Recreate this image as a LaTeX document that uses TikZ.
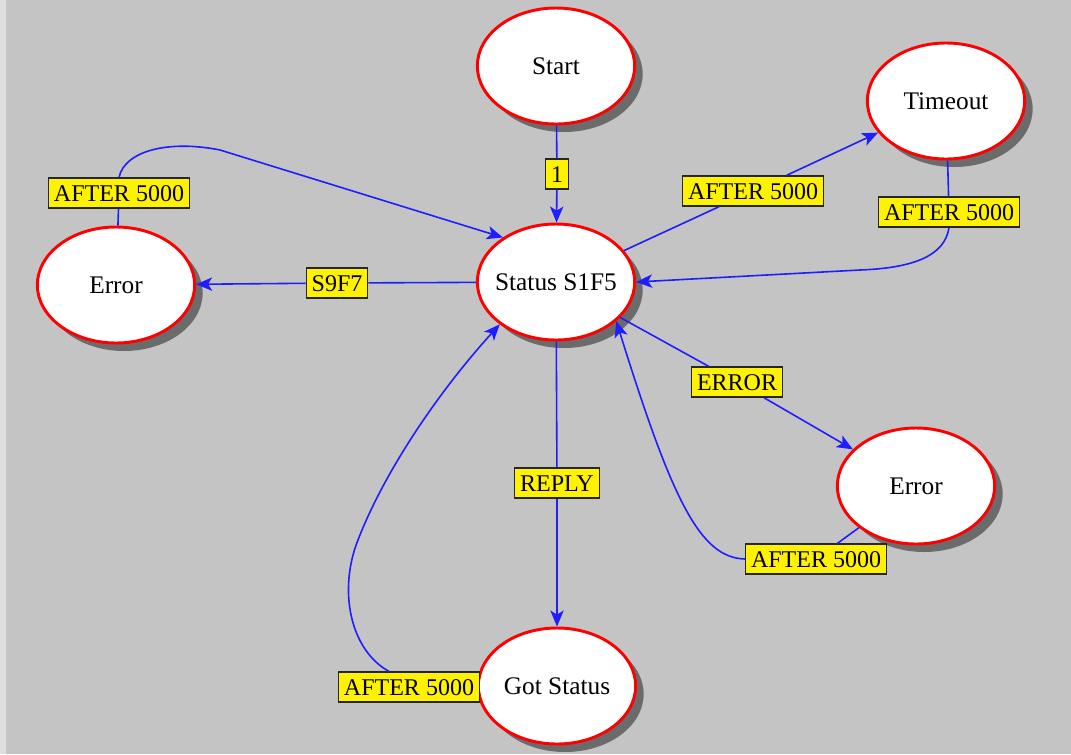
\documentclass[tikz,border=0pt]{standalone}
\usepackage{fontspec}
\setmainfont{Liberation Serif}
\usetikzlibrary{arrows.meta}
\usetikzlibrary{shapes.geometric}
\usetikzlibrary{shadows}

\definecolor{bggray}{HTML}{C4C4C4}
\definecolor{stripgray}{HTML}{DEDEDE}
\definecolor{edgeblue}{HTML}{1E1EFF}
\tikzset{
  state/.style={ellipse, draw=red, line width=2.2pt, fill=white,
    minimum width=118pt, minimum height=87pt, inner xsep=-20pt, inner ysep=0pt,
    font=\fontsize{19}{22}\selectfont,
    drop shadow={shadow xshift=6pt, shadow yshift=-6pt, fill=black!58, opacity=1}},
  tag/.style={rectangle, draw=black!85, line width=0.9pt, fill=yellow,
    inner xsep=4pt, inner ysep=4.5pt, text height=13pt, text depth=0.5pt,
    font=\fontsize{18}{20}\selectfont},
  link/.style={draw=edgeblue, line width=1.2pt},
  edge/.style={link, -{Stealth[length=12pt,width=10pt,inset=3pt]}}
}

\begin{document}
\begin{tikzpicture}[x=0.75pt, y=-0.75pt]
      \useasboundingbox (0,0) rectangle (1071,754);
      \fill[bggray] (0,0) rectangle (1071,754);
      \fill[stripgray] (0,0) rectangle (6,754);

      \node[state] (start) at (556,66) {Start};
      \node[state] (timeout) at (946,101) {Timeout};
      \node[state] (status) at (556,282) {Status S1F5};
      \node[state] (errL) at (116,285) {Error};
      \node[state] (errR) at (916,486) {Error};
      \node[state] (got) at (557,686) {Got Status};

      \node[tag] (tOne) at (557,174) {1};
      \node[tag] (tToTimeout) at (753,191) {AFTER 5000};
      \node[tag] (tFromTimeout) at (949,212) {AFTER 5000};
      \node[tag] (tS9F7) at (337,283) {S9F7};
      \node[tag] (tFromErrL) at (119,193) {AFTER 5000};
      \node[tag] (tError) at (737,382) {ERROR};
      \node[tag] (tFromErrR) at (816,559) {AFTER 5000};
      \node[tag] (tReply) at (557,483) {REPLY};
      \node[tag] (tFromGot) at (409,687) {AFTER 5000};

      \draw[link] (start) -- (tOne);
      \draw[edge] (tOne) -- (status);
      \draw[link] (status) -- (tToTimeout);
      \draw[edge] (tToTimeout) -- (timeout);
      \draw[link] (timeout) -- (tFromTimeout);
      \draw[edge] (tFromTimeout.south) .. controls (945,255) and (915,268) .. (860,270) -- (status.east);
      \draw[link] (status) -- (tS9F7);
      \draw[edge] (tS9F7) -- (errL);
      \draw[link] (errL) -- (tFromErrL);
      \draw[edge] (tFromErrL.north) .. controls (125,150) and (170,140) .. (220,150) -- (status.140);
      \draw[link] (status) -- (tError);
      \draw[edge] (tError) -- (errR);
      \draw[link] (errR) -- (tFromErrR);
      \draw[edge] (tFromErrR.west) .. controls (700,558) and (672,500) .. (status.-33);
      \draw[link] (status) -- (tReply);
      \draw[edge] (tReply) -- (got);
      \draw[edge] ([xshift=-15pt]tFromGot.north) .. controls (350,650) and (338,590) .. (358,540)
        .. controls (385,470) and (440,390) .. (status.-143);
    \end{tikzpicture}
\end{document}
